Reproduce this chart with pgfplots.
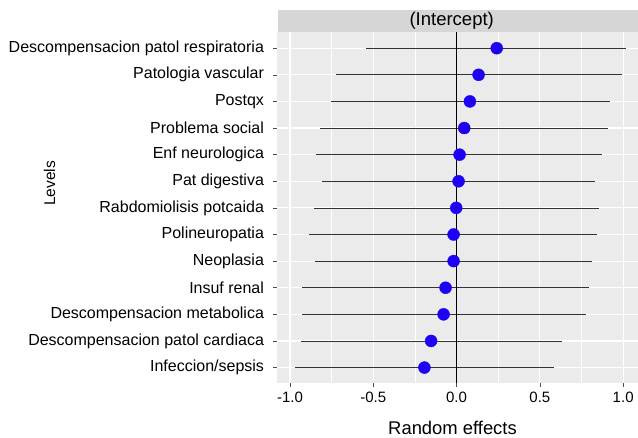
\documentclass[border=0pt]{standalone}
\usepackage{pgfplots}
\usepackage{pgfplotstable}
\pgfplotsset{compat=1.18}
\usepackage{fontspec}
\setmainfont{Liberation Sans}
\definecolor{panelgrey}{HTML}{EBEBEB}
\definecolor{stripgrey}{HTML}{D6D6D6}
\definecolor{dotblue}{RGB}{30,0,245}
\definecolor{tickgrey}{HTML}{4D4D4D}

\pgfplotstableread{
lev est lo hi
13 0.241 -0.542 1.016
12 0.132 -0.725 0.990
11 0.080 -0.751 0.919
10 0.046 -0.822 0.910
9 0.018 -0.842 0.875
8 0.012 -0.810 0.833
7 -0.002 -0.858 0.855
6 -0.018 -0.884 0.843
5 -0.018 -0.852 0.813
4 -0.066 -0.926 0.797
3 -0.078 -0.926 0.775
2 -0.153 -0.936 0.634
1 -0.193 -0.968 0.586
}\datatable

\begin{document}
\begin{tikzpicture}[x=1pt,y=1pt]
\path[use as bounding box] (0,0) rectangle (638,437);
\clip (0,0) rectangle (638,437);
% facet strip
\fill[stripgrey] (277.5,405.3) rectangle (640,427);
\node[anchor=center, font=\fontsize{18.5}{20}\selectfont, inner sep=0pt] at (451.7,416.5) {(Intercept)};
\begin{axis}[
  at={(277.5pt,54pt)}, anchor=south west,
  scale only axis, width=362pt, height=351.3pt,
  xmin=-1.075, xmax=1.098,
  ymin=0.42, ymax=13.62,
  axis background/.style={fill=panelgrey},
  axis line style={draw=none},
  xmajorgrids, xminorgrids, ymajorgrids,
  major grid style={white, line width=1.1pt},
  minor grid style={white, line width=0.55pt},
  xtick={-1,-0.5,0,0.5,1},
  minor xtick={-0.75,-0.25,0.25,0.75},
  xticklabels={-1.0,-0.5,0.0,0.5,1.0},
  ytick={1,2,3,4,5,6,7,8,9,10,11,12,13},
  yticklabels={Infeccion/sepsis,Descompensacion patol cardiaca,Descompensacion metabolica,Insuf renal,Neoplasia,Polineuropatia,Rabdomiolisis potcaida,Pat digestiva,Enf neurologica,Problema social,Postqx,Patologia vascular,Descompensacion patol respiratoria},
  tick align=outside, xtick pos=bottom, ytick pos=left,
  major tick length=4pt, minor tick length=0pt,
  tick style={tickgrey, line width=0.6pt},
  xticklabel style={font=\fontsize{15}{17}\selectfont, text=black, yshift=-1pt},
  yticklabel style={font=\fontsize{16}{18}\selectfont, text=black, xshift=-6pt},
]
\addplot[only marks, mark=none, forget plot,
  error bars/.cd, x dir=both, x explicit, error mark=none,
  error bar style={line width=0.75pt, color=black!80}]
  table[x=est, y=lev,
    x error plus expr=\thisrow{hi}-\thisrow{est},
    x error minus expr=\thisrow{est}-\thisrow{lo}] {\datatable};
\addplot[black, line width=0.8pt, forget plot] coordinates {(0,0.42) (0,13.62)};
\addplot[only marks, mark=*, mark size=6pt, mark options={draw=dotblue, fill=dotblue}] table[x=est, y=lev] {\datatable};
\end{axis}
\node[anchor=base, font=\fontsize{18.4}{20}\selectfont, inner sep=0pt] at (452.5,2.5) {Random effects};
\node[anchor=base, rotate=90, font=\fontsize{15.5}{17}\selectfont, inner sep=0pt] at (55,253.7) {Levels};
\end{tikzpicture}
\end{document}
